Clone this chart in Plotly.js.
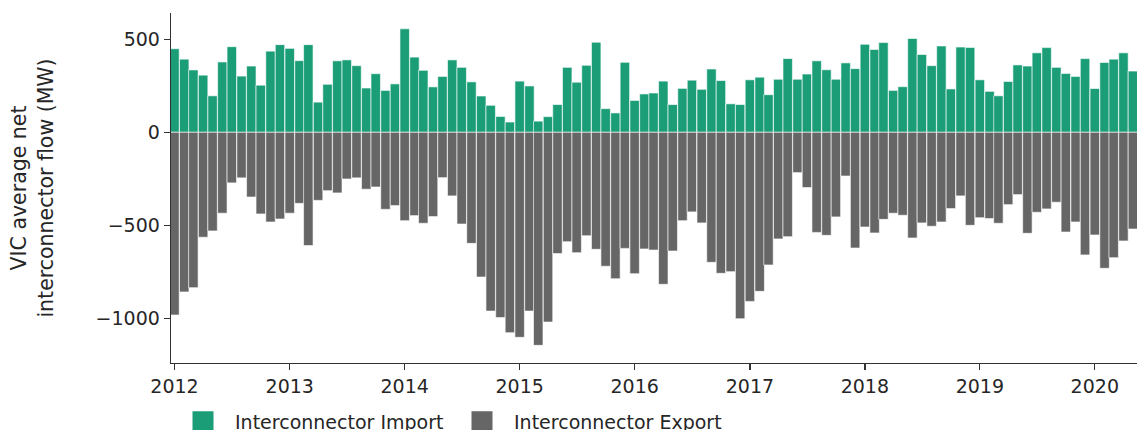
<!DOCTYPE html>
<html>
<head>
<meta charset="utf-8">
<script src="https://cdn.plot.ly/plotly-3.0.1.min.js"></script>
<style>
  html, body { margin: 0; padding: 0; background: #fff; }
  #chart { width: 1137px; height: 430px; }
</style>
</head>
<body>
<div id="chart"></div>
<script>
// Monthly data, Jan 2012 .. May 2020
const startYear = 2012;
const monthCount = 101;

const importMW = [
  449, 393, 335, 307, 196, 378, 460, 302, 356, 253, 436, 471,
  451, 385, 471, 162, 258, 384, 389, 358, 238, 315, 225, 260,
  556, 404, 333, 244, 300, 389, 349, 271, 195, 145, 85, 55,
  275, 249, 60, 84, 149, 349, 269, 360, 484, 127, 104, 376,
  171, 206, 211, 275, 149, 236, 280, 231, 340, 278, 153, 149,
  282, 296, 202, 285, 396, 285, 313, 384, 336, 285, 373, 342,
  473, 445, 482, 225, 245, 504, 418, 358, 464, 233, 458, 456,
  282, 220, 196, 273, 362, 356, 427, 455, 349, 316, 300, 396,
  235, 375, 393, 427, 329
];

const exportMW = [
  -982, -858, -835, -564, -530, -435, -272, -245, -348, -439, -482, -466,
  -435, -382, -609, -366, -314, -326, -251, -245, -306, -294, -414, -394,
  -475, -448, -489, -453, -244, -342, -493, -597, -778, -961, -996, -1077,
  -1102, -961, -1145, -1020, -652, -588, -647, -556, -629, -720, -787, -624,
  -760, -627, -633, -817, -638, -475, -428, -487, -699, -758, -749, -1002,
  -909, -855, -713, -573, -561, -217, -297, -538, -554, -455, -235, -622,
  -509, -541, -468, -435, -446, -568, -487, -505, -482, -410, -342, -500,
  -459, -464, -489, -389, -335, -543, -430, -412, -376, -536, -482, -659,
  -552, -731, -674, -584, -520
];

const seriesNames = ['Interconnector Import', 'Interconnector Export'];
const seriesColors = ['#1b9e77', '#666666'];
const yTickVals = [-1000, -500, 0, 500];

const months = [];
for (let i = 0; i < monthCount; i++) {
  const y = startYear + Math.floor(i / 12);
  const m = (i % 12) + 1;
  months.push(y + '-' + String(m).padStart(2, '0') + '-01');
}

const barWidth = 30 * 24 * 3600 * 1000;
const edge = { color: 'rgba(255,255,255,0.6)', width: 1 };

const traces = [
  { type: 'bar', x: months, y: importMW, width: barWidth, name: seriesNames[0],
    marker: { color: seriesColors[0], line: edge }, showlegend: false, hoverinfo: 'x+y' },
  { type: 'bar', x: months, y: exportMW, width: barWidth, name: seriesNames[1],
    marker: { color: seriesColors[1], line: edge }, showlegend: false, hoverinfo: 'x+y' },
  // legend swatches
  { type: 'scatter', mode: 'markers', x: [null], y: [null], name: seriesNames[0],
    marker: { symbol: 'square', size: 16, color: seriesColors[0], line: { color: seriesColors[0], width: 5 } } },
  { type: 'scatter', mode: 'markers', x: [null], y: [null], name: seriesNames[1],
    marker: { symbol: 'square', size: 16, color: seriesColors[1], line: { color: seriesColors[1], width: 5 } } }
];

const font = { family: 'DejaVu Sans, sans-serif', size: 19, color: '#262626' };
const titleFont = { family: 'DejaVu Sans, sans-serif', size: 20.5, color: '#262626' };

const layout = {
  width: 1137, height: 430,
  margin: { l: 171, r: 0, t: 13, b: 67, autoexpand: false },
  paper_bgcolor: '#fff', plot_bgcolor: '#fff',
  font: font,
  barmode: 'relative',
  bargap: 0,
  xaxis: {
    type: 'date',
    range: ['2011-12-21', '2020-05-14'],
    tickformat: '%Y', dtick: 'M12', tick0: '2012-01-01',
    showgrid: false, zeroline: false,
    showline: true, linecolor: '#333', linewidth: 1.3,
    ticks: 'outside', ticklen: 6, tickwidth: 1.3, tickcolor: '#333',
    tickfont: font
  },
  yaxis: {
    range: [-1240, 641],
    tickvals: yTickVals,
    showgrid: false, zeroline: false,
    showline: true, linecolor: '#333', linewidth: 1.3,
    ticks: 'outside', ticklen: 6, tickwidth: 1.3, tickcolor: '#333',
    tickfont: font,
    title: { text: 'VIC average net<br>interconnector flow (MW)', font: titleFont, standoff: 36 }
  },
  legend: {
    orientation: 'h', x: 0, xanchor: 'left', y: -0.114, yanchor: 'top',
    font: font, itemwidth: 54, entrywidth: 210, entrywidthmode: 'pixels',
    bgcolor: 'rgba(0,0,0,0)'
  },
  showlegend: true
};

Plotly.newPlot('chart', traces, layout, { displayModeBar: false, staticPlot: true });
</script>
</body>
</html>
